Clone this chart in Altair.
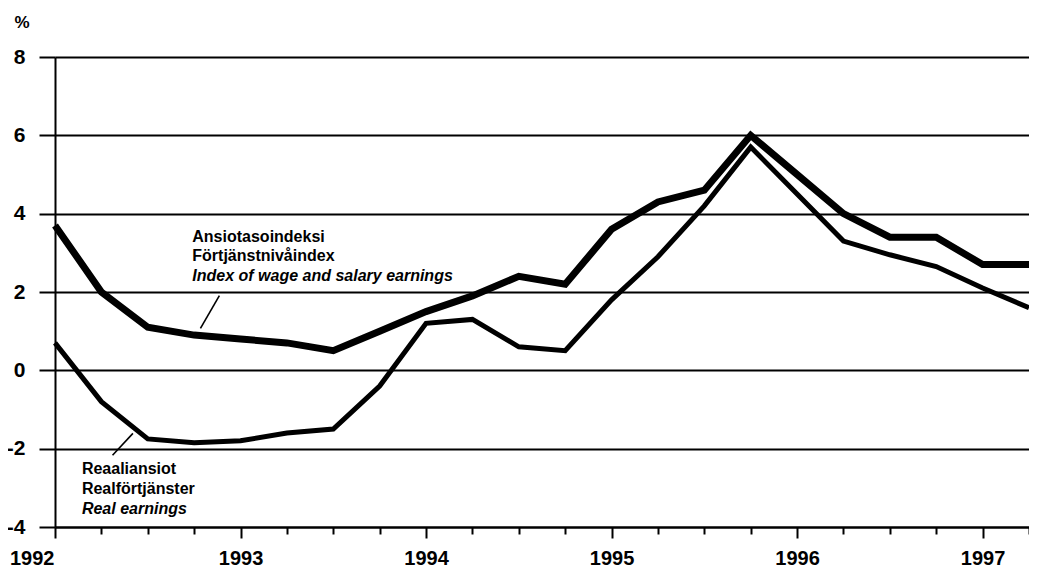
import altair as alt
import pandas as pd

# quarterly observation points (decimal years)
quarters = [1992.0, 1992.25, 1992.5, 1992.75, 1993.0, 1993.25, 1993.5, 1993.75,
            1994.0, 1994.25, 1994.5, 1994.75, 1995.0, 1995.25, 1995.5, 1995.75,
            1996.0, 1996.25, 1996.5, 1996.75, 1997.0, 1997.25]
wage = [3.7, 2.0, 1.1, 0.9, 0.8, 0.7, 0.5, 1.0, 1.5, 1.9, 2.4, 2.2,
        3.6, 4.3, 4.6, 6.0, 5.0, 4.0, 3.4, 3.4, 2.7, 2.7]
real = [0.7, -0.8, -1.75, -1.85, -1.8, -1.6, -1.5, -0.4, 1.2, 1.3, 0.6, 0.5,
        1.8, 2.9, 4.2, 5.7, 4.5, 3.3, 2.95, 2.65, 2.1, 1.6]
y_ticks = [-4, -2, 0, 2, 4, 6, 8]

label_normal = ["Ansiotasoindeksi", "Förtjänstnivåindex", "Reaaliansiot", "Realförtjänster"]
label_normal_x = [1992.74, 1992.74, 1992.145, 1992.145]
label_normal_y = [3.27, 2.78, -2.65, -3.16]
label_italic = ["Index of wage and salary earnings", "Real earnings"]
label_italic_x = [1992.74, 1992.145]
label_italic_y = [2.29, -3.67]

leader_x = [1992.886, 1992.42]
leader_y = [1.91, -1.61]
leader_x2 = [1992.784, 1992.31]
leader_y2 = [1.07, -2.17]

FONT = "Liberation Sans"

df_wage = pd.DataFrame({"x": quarters, "y": wage})
df_real = pd.DataFrame({"x": quarters, "y": real})
df_tn = pd.DataFrame({"x": label_normal_x, "y": label_normal_y, "t": label_normal})
df_ti = pd.DataFrame({"x": label_italic_x, "y": label_italic_y, "t": label_italic})
df_lead = pd.DataFrame({"x": leader_x, "y": leader_y, "x2": leader_x2, "y2": leader_y2})

x_enc = alt.X(
    "x:Q",
    scale=alt.Scale(domain=[1992, 1997.25], nice=False, zero=False),
    axis=alt.Axis(
        values=quarters,
        title=None,
        grid=False,
        domainColor="black",
        domainWidth=2,
        tickColor="black",
        tickWidth=2,
        tickSize={"condition": {"test": "datum.value % 1 === 0", "value": 11}, "value": 7},
        labelExpr="datum.value % 1 === 0 ? '' + datum.value : ''",
        labelFont=FONT,
        labelFontSize=20,
        labelFontWeight="bold",
        labelColor="black",
        labelPadding=10,
        labelAlign={"condition": {"test": "datum.value === 1992", "value": "right"}, "value": "center"},
        labelOffset={"condition": {"test": "datum.value === 1992", "value": -1}, "value": 0},
        labelFlush=False,
        labelOverlap=False,
    ),
)

y_enc = alt.Y(
    "y:Q",
    scale=alt.Scale(domain=[-4, 8], nice=False, zero=False),
    axis=alt.Axis(
        values=y_ticks,
        grid=True,
        gridColor="black",
        gridWidth=2,
        gridOpacity=1,
        domainColor="black",
        domainWidth=2,
        tickColor="black",
        tickWidth=2,
        tickSize=16,
        labelExpr="datum.value < 0 ? '-' + abs(datum.value) : '' + datum.value",
        labelFont=FONT,
        labelFontSize=21,
        labelFontWeight="bold",
        labelColor="black",
        labelPadding=14,
        title="%",
        titleAngle=0,
        titleX=-41,
        titleY=-30,
        titleAlign="left",
        titleBaseline="alphabetic",
        titleFont=FONT,
        titleFontSize=17,
        titleFontWeight="bold",
        titleColor="black",
    ),
)

leaders = alt.Chart(df_lead).mark_rule(color="black", strokeWidth=1.6).encode(
    x=x_enc, y=y_enc, x2="x2:Q", y2="y2:Q"
)

text_n = alt.Chart(df_tn).mark_text(
    align="left", baseline="alphabetic", font=FONT, fontSize=16,
    fontWeight="bold", color="black"
).encode(x=x_enc, y=y_enc, text="t:N")

text_i = alt.Chart(df_ti).mark_text(
    align="left", baseline="alphabetic", font=FONT, fontSize=16,
    fontWeight="bold", fontStyle="italic", color="black"
).encode(x=x_enc, y=y_enc, text="t:N")

line_real = alt.Chart(df_real).mark_line(color="black", strokeWidth=5).encode(
    x=x_enc, y=y_enc, order="x:Q"
)
line_wage = alt.Chart(df_wage).mark_line(color="black", strokeWidth=7).encode(
    x=x_enc, y=y_enc, order="x:Q"
)

chart = alt.layer(leaders, text_n, text_i, line_real, line_wage).properties(
    width=974,
    height=470,
    autosize=alt.AutoSizeParams(type="none"),
    padding={"left": 47, "top": 49, "right": 0, "bottom": 50},
    background="white",
).configure_view(stroke=None)

chart.save("out.html", embed_options={"renderer": "svg", "actions": False})
